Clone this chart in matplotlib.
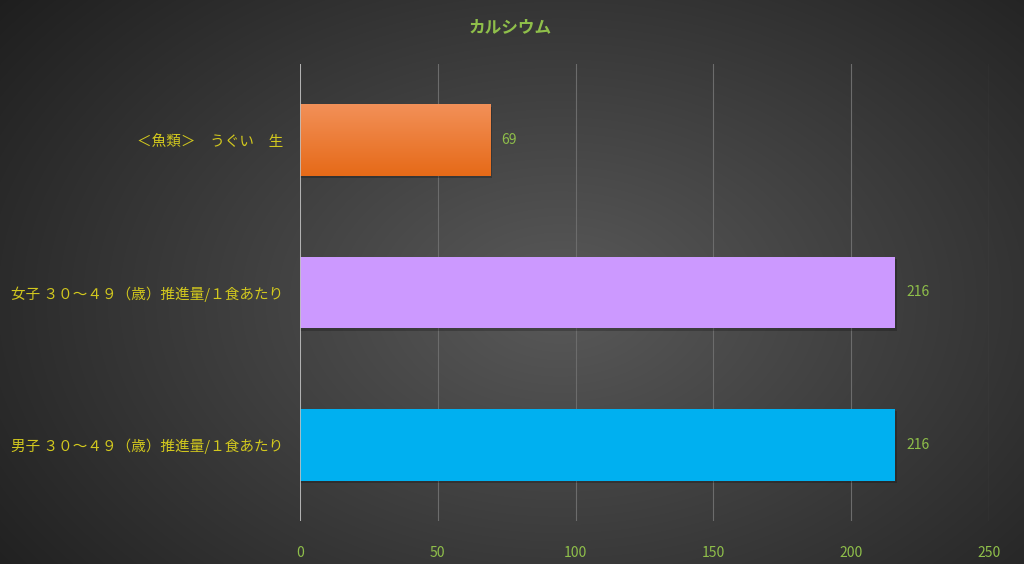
import matplotlib.pyplot as plt
import numpy as np
from matplotlib.colors import LinearSegmentedColormap

# data
categories = ['男子 ３０～４９（歳）推進量/１食あたり',
              '女子 ３０～４９（歳）推進量/１食あたり',
              '＜魚類＞　うぐい　生']
values = [216, 216, 69]
bar_colors = ['#00b0f0', '#cc99ff', '#ee7623']
x_ticks = [0, 50, 100, 150, 200, 250]

plt.rcParams['font.family'] = ['Noto Sans CJK JP', 'DejaVu Sans']

fig = plt.figure(figsize=(10.24, 5.64), dpi=100)

# radial background, lighter in the middle and darker at the corners
bg = fig.add_axes([0, 0, 1, 1])
yy, xx = np.mgrid[0:564, 0:1024]
r = np.sqrt(((xx - 560) / 620.0) ** 2 + ((yy - 300) / 420.0) ** 2)
shade = np.clip(0.35 - 0.20 * r, 0.12, 0.35)
bg.imshow(np.dstack([shade, shade, shade]), aspect='auto', extent=[0, 1, 0, 1])
bg.set_axis_off()

ax = fig.add_axes([300 / 1024, 1 - 521 / 564, (989 - 300) / 1024, (521 - 64) / 564])
ax.patch.set_alpha(0)

ypos = np.arange(len(categories))
bars = ax.barh(ypos, values, height=0.47, color=bar_colors, zorder=3)
# slight drop shadow under bars
for b in bars:
    ax.barh(b.get_y() + b.get_height() / 2 - 0.015, b.get_width() + 0.6, height=0.47,
            color='black', alpha=0.22, zorder=2)

# orange bar has a vertical gradient, lighter on top
orange = bars[2]
grad = LinearSegmentedColormap.from_list('og', ['#e66a18', '#f29058'])
im = ax.imshow(np.linspace(0, 1, 64).reshape(-1, 1), cmap=grad, aspect='auto', origin='lower',
               extent=[0, orange.get_width(), orange.get_y(), orange.get_y() + orange.get_height()],
               zorder=3.5)
im.set_clip_path(orange)

for y, v in zip(ypos, values):
    ax.text(v + 4, y, str(v), va='center', ha='left', color='#8fbf4a', fontsize=10)

ax.set_xlim(0, 250)
ax.set_ylim(-0.5, 2.5)
ax.set_xticks(x_ticks)
ax.set_xticklabels([str(t) for t in x_ticks])
ax.set_yticks(ypos)
ax.set_yticklabels(categories)
ax.tick_params(axis='x', colors='#8fbf4a', labelsize=10, length=0, pad=18)
ax.tick_params(axis='y', colors='#d2c81e', labelsize=10.5, length=0, pad=12)

ax.grid(axis='x', color='#6c6c6c', linewidth=0.8, zorder=0)
ax.axvline(0, color='#c0c0c0', linewidth=1.2, zorder=4)
for s in ax.spines.values():
    s.set_visible(False)

fig.text(510 / 1024, 1 - 27 / 564, 'カルシウム', ha='center', va='center',
         color='#8fbf4a', fontsize=12, fontweight='bold')

fig.savefig('out.png', dpi=100)
